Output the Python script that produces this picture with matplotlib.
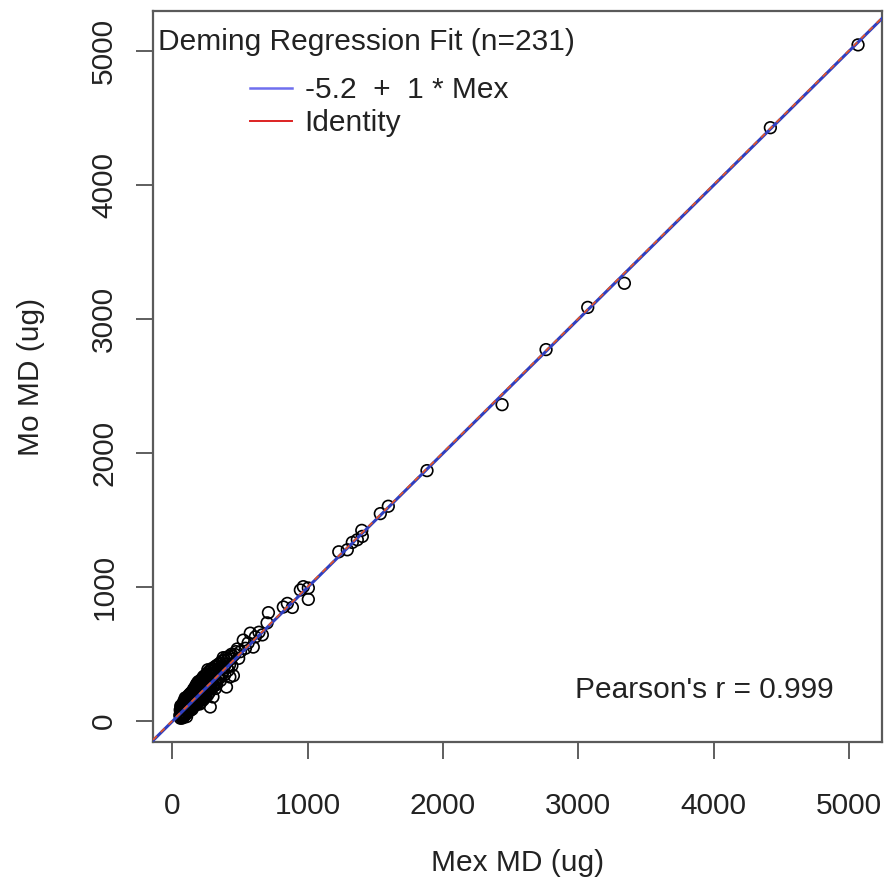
import matplotlib
matplotlib.use("Agg")
import matplotlib.pyplot as plt
from matplotlib.lines import Line2D

plt.rcParams['font.family'] = ['Liberation Sans', 'DejaVu Sans']

# Mex vs Mo mass deposition (ug), 231 paired samples
mex_md = [
    # 50-150
    55, 58, 60, 62, 65, 66, 68, 70, 72, 74,
    75, 77, 79, 80, 82, 84, 85, 87, 88, 90,
    92, 93, 95, 96, 98, 100, 101, 103, 104, 106,
    108, 110, 111, 113, 115, 116, 118, 120, 121, 123,
    125, 126, 128, 130, 131, 133, 135, 136, 138, 140,
    141, 143, 145, 146, 148, 149, 150, 105, 85, 95,
    62, 70, 78, 112, 134,
    # 150-250
    152, 153, 155, 157, 158, 160, 161, 163, 165, 166,
    168, 170, 171, 173, 175, 176, 178, 180, 181, 183,
    185, 186, 188, 190, 191, 193, 195, 196, 198, 200,
    201, 203, 205, 206, 208, 210, 211, 213, 215, 216,
    218, 220, 221, 223, 225, 226, 228, 230, 231, 233,
    235, 236, 238, 240, 241, 243, 245, 246, 248, 250,
    187, 204,
    # 250-350
    252, 254, 256, 258, 260, 262, 264, 266, 268, 270,
    272, 274, 276, 278, 280, 281, 283, 285, 287, 289,
    291, 293, 295, 297, 299, 300, 302, 305, 308, 310,
    313, 316, 319, 322, 325, 328, 331, 335, 340, 345,
    262, 318,
    # 350-450
    350, 353, 356, 360, 364, 368, 372, 376, 380, 384,
    388, 392, 396, 400, 404, 408, 412, 418, 422, 425,
    430, 436, 440, 445, 451,
    # 450-700
    460, 470, 480, 490, 503, 524, 540, 560, 576, 598,
    613, 640, 665, 700, 710,
    # upper range
    820, 850, 887, 946, 968, 1005, 1005, 1230, 1293, 1330,
    1367, 1400, 1404, 1537, 1596, 1882, 2437, 2762, 3070, 3341,
    4420, 5068,
]
mo_md = [
    40, 80, 18, 55, 100, 48, 30, 88, 62, 120,
    35, 98, 22, 70, 130, 52, 105, 35, 85, 140,
    60, 115, 45, 155, 84, 128, 50, 100, 165, 70,
    135, 80, 175, 62, 148, 98, 185, 110, 70, 170,
    115, 195, 88, 150, 120, 200, 92, 165, 128, 210,
    100, 185, 135, 85, 215, 148, 110, 30, 145, 170,
    110, 20, 45, 145, 78,
    215, 160, 120, 235, 175, 135, 225, 110, 190, 245,
    150, 230, 130, 260, 185, 150, 240, 120, 275, 195,
    160, 260, 140, 225, 290, 175, 265, 150, 240, 190,
    295, 165, 270, 205, 135, 245, 300, 185, 280, 160,
    255, 205, 315, 180, 285, 220, 155, 270, 330, 205,
    295, 180, 250, 315, 210, 285, 175, 340, 250, 215,
    275, 125,
    300, 220, 340, 255, 190, 310, 360, 240, 325, 265,
    210, 350, 280, 375, 102, 250, 335, 265, 380, 235,
    345, 285, 390, 255, 355, 177, 300, 380, 260, 340,
    400, 280, 365, 305, 410, 270, 375, 320, 420, 320,
    380, 240,
    390, 430, 300, 405, 345, 445, 360, 470, 400, 450,
    345, 420, 470, 251, 395, 455, 375, 480, 415, 326,
    460, 495, 410, 480, 336,
    495, 515, 535, 465, 515, 601, 540, 580, 653, 549,
    625, 660, 640, 730, 806,
    848, 875, 845, 975, 1000, 990, 905, 1260, 1275, 1330,
    1350, 1420, 1375, 1545, 1600, 1866, 2358, 2769, 3084, 3264,
    4425, 5043,
]

intercept = -5.2
slope = 1
pearson_r = 0.999
x_ticks = [0, 1000, 2000, 3000, 4000, 5000]

fs = 21.5
fig = plt.figure(figsize=(8.85, 8.92), dpi=100)
ax = fig.add_axes([0.1729, 0.1682, 0.8237, 0.8195])

ax.scatter(mex_md, mo_md, s=70, facecolors='none', edgecolors='black',
           linewidths=1.2, zorder=2)

# Deming fit and identity line across the full panel
ax.axline((0, intercept), slope=slope, color='#2f3fc0', lw=2.2, zorder=3)
ax.axline((0, 0), slope=1, color='#e0552a', lw=1.3, dashes=(3, 3), zorder=4)

ax.set_xlim(-143, 5245)
ax.set_ylim(-159, 5296)
ax.set_xticks(x_ticks)
ax.set_yticks(x_ticks)

for s in ax.spines.values():
    s.set_color('#5a5a5a')
    s.set_linewidth(1.6)

ax.tick_params(axis='both', length=12, width=1.1, color='#333333',
               labelsize=fs, labelcolor='#222222')
ax.tick_params(axis='x', pad=24)
ax.tick_params(axis='y', pad=13, labelrotation=90)
for lab in ax.get_yticklabels():
    lab.set_va('center')

ax.set_xlabel('Mex MD (ug)', fontsize=fs, color='#222222')
ax.set_ylabel('Mo MD (ug)', fontsize=fs, color='#222222')
ax.xaxis.set_label_coords(0.5, -0.166)
ax.xaxis.label.set_va('center')
ax.yaxis.set_label_coords(-0.167, 0.5)
ax.yaxis.label.set_va('center')

ax.text(0.007, 0.957, f'Deming Regression Fit (n={len(mex_md)})',
        transform=ax.transAxes, fontsize=fs, color='#222222',
        ha='left', va='center')

handles = [Line2D([], [], color='#6f6fee', lw=1.8),
           Line2D([], [], color='#dd2222', lw=1.4)]
labels = [f'{intercept}  +  {slope} * Mex', 'Identity']
ax.legend(handles, labels, loc='upper left', bbox_to_anchor=(0.133, 0.911),
          frameon=False, fontsize=fs, handlelength=1.4, handletextpad=0.43,
          labelspacing=0.18, borderpad=0, borderaxespad=0,
          labelcolor='#222222')

ax.text(0.756, 0.071, f"Pearson's r = {pearson_r}", transform=ax.transAxes,
        fontsize=fs, color='#222222', ha='center', va='center')

fig.savefig('out.png', dpi=100)
